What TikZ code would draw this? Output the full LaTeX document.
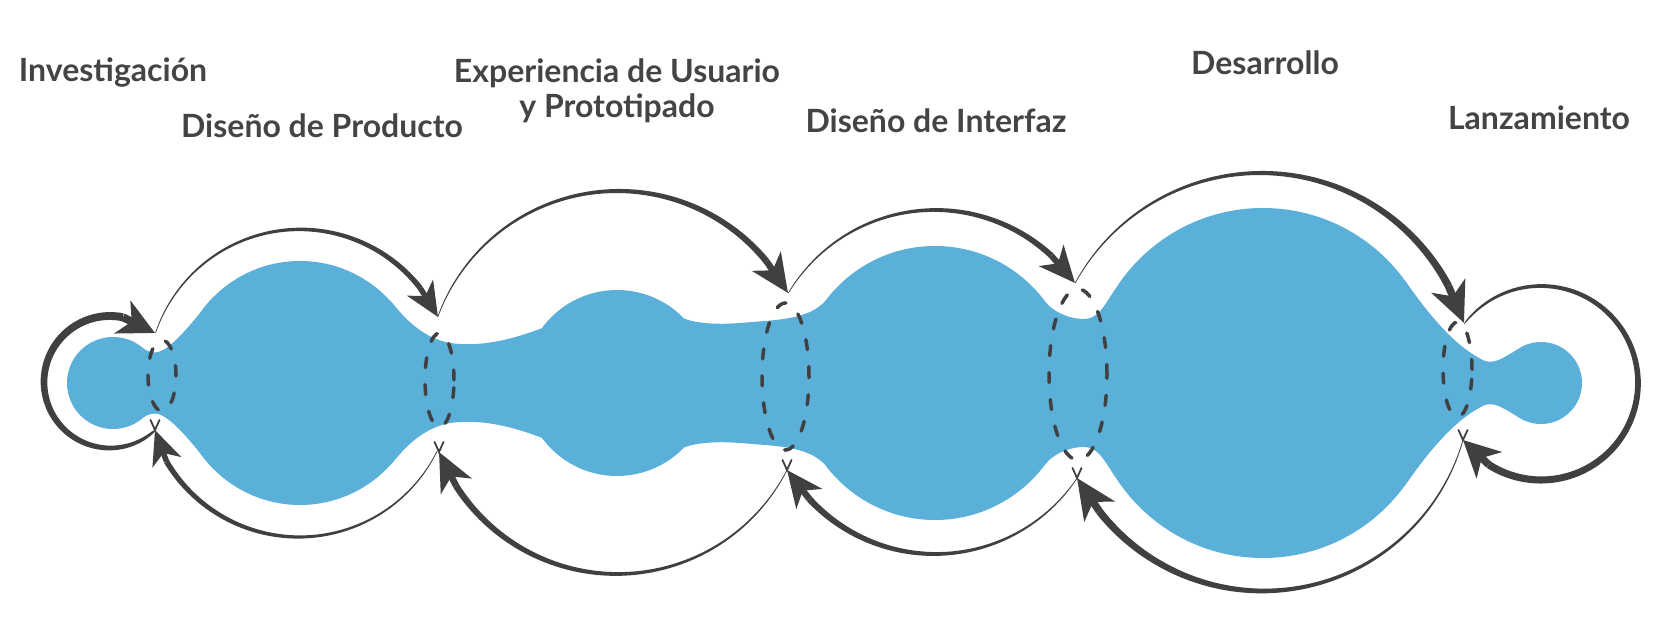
\documentclass[tikz,border=0pt]{standalone}
\usepackage{fontspec}
\setmainfont{Lato}
\usetikzlibrary{arrows.meta}
\definecolor{blob}{HTML}{5BB0DA}
\definecolor{ink}{HTML}{404040}
\definecolor{txt}{HTML}{444444}
% tapered circular stroke: cx, cy, r, a0, a1, w0, w1, exponent (pixel units, y down)
\newcommand{\taperarc}[8]{%
  \fill[ink] plot[domain=#4:#5,samples=90,variable=\t]
    ({#1+(#3+0.5*(#6+(#7-#6)*pow((\t-(#4))/((#5)-(#4))+0.0001,#8)))*cos(\t)},
     {#2-(#3+0.5*(#6+(#7-#6)*pow((\t-(#4))/((#5)-(#4))+0.0001,#8)))*sin(\t)})
    -- plot[domain=#5:#4,samples=90,variable=\t]
    ({#1+(#3-0.5*(#6+(#7-#6)*pow((\t-(#4))/((#5)-(#4))+0.0001,#8)))*cos(\t)},
     {#2-(#3-0.5*(#6+(#7-#6)*pow((\t-(#4))/((#5)-(#4))+0.0001,#8)))*sin(\t)})
    -- cycle;}
% arrow segment: cx, cy, r, abase, width(px), length(pt), width(pt), tip
\newcommand{\arrowseg}[8]{%
  \draw[ink, line width=#5*0.5pt, -{Stealth[length=#6, width=#7, inset=#6*0.28]}]
    ({#1+#3*cos(#4)},{#2-#3*sin(#4)}) -- (#8);}
% small chevron at a lower neck point
\newcommand{\chev}[1]{\draw[ink, line width=0.9pt, line cap=round] (#1) ++(-4.5,-10) -- (#1) -- ++(4.5,-10);}
% upper half of the blob bridges (necks)
\newcommand{\blobhalf}{%
 \fill[blob] (128.7,339.8) .. controls (138,343.2) and (145,352.5) .. (155,352.5)
   .. controls (172,352.5) and (203.2,307.5) .. (213,297.5) -- (213,384.5) -- (128.7,384.5) -- cycle;
 \fill[blob] (390.7,301.4) .. controls (400.1,311.8) and (418,337) .. (450,343)
   .. controls (488,348) and (522,336) .. (553,324) -- (553,384.5) -- (390.7,384.5) -- cycle;
 \fill[blob] (684,318.5) .. controls (695,323) and (715,325) .. (740,323)
   .. controls (775,320) and (808,320) .. (825,301.3) -- (825,384.5) -- (684,384.5) -- cycle;
 \fill[blob] (1045,301.3) .. controls (1052,311) and (1068,319) .. (1084,319)
   .. controls (1098,319) and (1104,306) .. (1115,289.6) -- (1115,384.5) -- (1045,384.5) -- cycle;
 \fill[blob] (1405,280.7) .. controls (1420,301.5) and (1450,345) .. (1485,361)
   .. controls (1495,364) and (1503,358) .. (1518,349.1) -- (1518,384.5) -- (1405,384.5) -- cycle;
}
\begin{document}
\begin{tikzpicture}[x=0.5pt,y=-0.5pt,
  lbl/.style={font=\fontsize{16}{19}\selectfont\bfseries, text=txt, anchor=base, inner sep=0pt},
  dashline/.style={draw=ink, line width=1.75pt, dash pattern=on 5pt off 8.5pt, line cap=round}]
\useasboundingbox (0,0) rectangle (1667,625);

% ---- blob: circles + necks (upper half and its mirror image)
\fill[blob] (113,383) circle [radius=23pt];
\fill[blob] (300,383) circle [radius=61pt];
\fill[blob] (617,383) circle [radius=46.5pt];
\fill[blob] (935,383) circle [radius=68.5pt];
\fill[blob] (1263,383) circle [radius=87.5pt];
\fill[blob] (1541,383) circle [radius=20.5pt];
\blobhalf
\begin{scope}[shift={(0,766)},yscale=-1]
\blobhalf
\end{scope}

% ---- neck points
\coordinate (n1t) at (155,333); \coordinate (n1b) at (155,430);
\coordinate (n2t) at (438,317); \coordinate (n2b) at (439,452);
\coordinate (n3t) at (788,293); \coordinate (n3b) at (787,470);
\coordinate (n4t) at (1075,283); \coordinate (n4b) at (1077,478);
\coordinate (n5t) at (1464,323); \coordinate (n5b) at (1463,440);

% ---- dashed ellipses
\draw[dashline] (162,375.5) ellipse [x radius=7pt, y radius=17.75pt];
\draw[dashline] (439.5,380) ellipse [x radius=7.25pt, y radius=23.5pt];
\draw[dashline] (785.5,376.5) ellipse [x radius=11.75pt, y radius=36.75pt];
\draw[dashline] (1078,374.5) ellipse [x radius=14.5pt, y radius=42.75pt];
\draw[dashline] (1457.5,369.5) ellipse [x radius=7.25pt, y radius=23.75pt];

% ---- top arcs
\taperarc{300}{382}{152.6}{161.3}{38}{0.7}{5.5}{1}
\arrowseg{300}{382}{152.6}{38}{5.5}{17pt}{15pt}{n2t}
\taperarc{618}{383}{192}{159.9}{39.3}{0.7}{6.5}{1}
\arrowseg{618}{383}{192}{39.3}{6.5}{19pt}{17pt}{n3t}
\taperarc{935}{381}{171}{149}{47.1}{0.7}{6}{1}
\arrowseg{935}{381}{171}{47.1}{6}{18pt}{16pt}{n4t}
\taperarc{1261}{385}{212}{151.2}{27.9}{0.7}{7.5}{1}
\arrowseg{1261}{385}{212}{27.9}{7.5}{20pt}{18pt}{n5t}
% ---- right loop
\taperarc{1541}{383}{97}{142.3}{-122.7}{0.7}{7.5}{0.5}
\arrowseg{1541}{383}{97}{-122.7}{7.5}{18pt}{18pt}{n5b}
% ---- bottom arcs
\taperarc{1263}{383}{208}{-15.9}{-141.9}{0.7}{7.5}{1}
\arrowseg{1263}{383}{208}{-141.9}{7.5}{20pt}{18pt}{n4b}
\taperarc{935}{383}{171}{-33.8}{-137.4}{0.7}{6.5}{1}
\arrowseg{935}{383}{171}{-137.4}{6.5}{18pt}{16pt}{n3b}
\taperarc{617}{383}{191}{-27.1}{-147.4}{0.7}{6.5}{1}
\arrowseg{617}{383}{191}{-147.4}{6.5}{19pt}{17pt}{n2b}
\taperarc{299}{383}{154}{-26.2}{-149.3}{0.7}{5.5}{1}
\arrowseg{299}{383}{154}{-149.3}{5.5}{17pt}{15pt}{n1b}
% ---- left loop
\taperarc{110}{382}{66}{-46.8}{-281.3}{0.7}{8}{0.35}
\arrowseg{110}{382}{66}{-281.3}{8}{18pt}{18pt}{n1t}

% ---- chevrons at the lower neck points
\chev{n1b} \chev{n2b} \chev{n3b} \chev{n4b} \chev{n5b}

% ---- labels
\node[lbl] (t1) at (113,82) {Investigación};
\node[lbl] (t2) at (322,138) {Diseño de Producto};
\node[lbl] (t3) at (617,83) {Experiencia de Usuario};
\node[lbl] (t3b) at (617,118) {y Prototipado};
\node[lbl] (t4) at (936,133) {Diseño de Interfaz};
\node[lbl] (t5) at (1265,75) {Desarrollo};
\node[lbl] (t6) at (1539,130) {Lanzamiento};
\end{tikzpicture}
\end{document}
